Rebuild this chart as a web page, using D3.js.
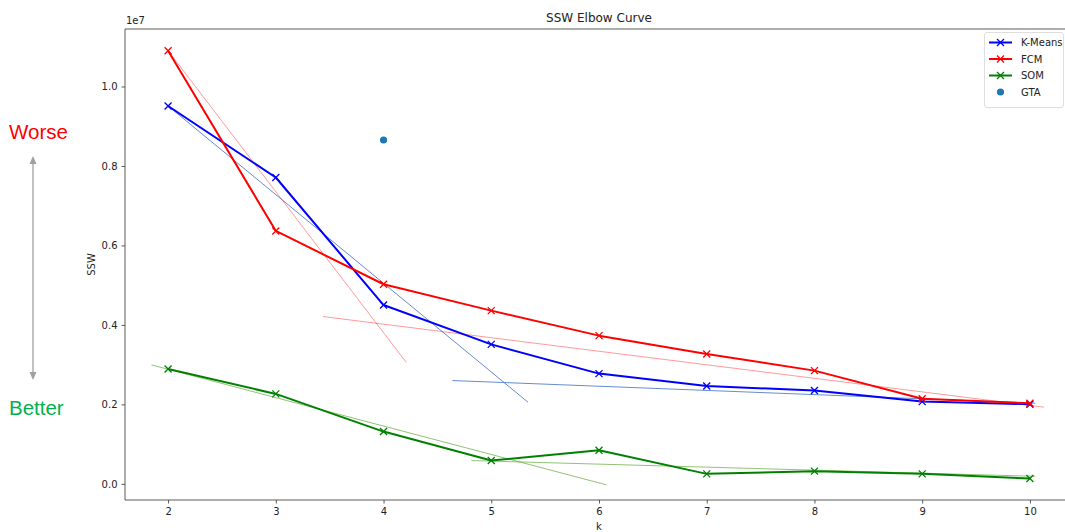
<!DOCTYPE html>
<html>
<head>
<meta charset="utf-8">
<script src="https://cdn.jsdelivr.net/npm/d3@7"></script>
<style>
  html, body { margin: 0; padding: 0; background: #fff; overflow: hidden; }
  svg { display: block; font-family: "DejaVu Sans", sans-serif; }
</style>
</head>
<body>
<svg id="chart" width="1065" height="532"></svg>
<script>
// Number of clusters tried
const kValues = [2, 3, 4, 5, 6, 7, 8, 9, 10];

// Sum of squares within clusters for each method
const kmeansSSW = [9510000, 7710000, 4500000, 3510000, 2775000, 2465000, 2348000, 2070000, 2005000];
const fcmSSW    = [10900000, 6365000, 5024000, 4360000, 3730000, 3270000, 2850000, 2140000, 2030000];
const somSSW    = [2890000, 2264000, 1316000, 586000, 848000, 252000, 320000, 252000, 134000];

// Single GTA result
const gtaPoint = [4, 8654000];

// Two-segment elbow fits, as [k, SSW] end points
const kmeansFit = [[[2, 9510000], [5.341, 2055000]], [[4.64, 2600000], [10.05, 2030000]]];
const fcmFit    = [[[2, 10900000], [4.21, 3060000]], [[3.439, 4210000], [10.13, 1930000]]];
const somFit    = [[[1.846, 2994000], [6.07, -25000]], [[4.816, 586000], [10.05, 190000]]];

const yTicks = [0, 2000000, 4000000, 6000000, 8000000, 10000000];

const svg = d3.select("#chart");
const mLeft = 125, mRight = 1073, mTop = 29, mBottom = 500;

const x = d3.scaleLinear().domain([1.6, 10.4]).range([mLeft, mRight]);
const y = d3.scaleLinear().domain([-406000, 11447000]).range([mBottom, mTop]);

const series = [
  { name: "K-Means", values: kmeansSSW, fit: kmeansFit, color: "#0000ff", fitColor: "#3f6fc4", fitOpacity: 0.8 },
  { name: "FCM",     values: fcmSSW,    fit: fcmFit,    color: "#ff0000", fitColor: "#ff0000", fitOpacity: 0.4 },
  { name: "SOM",     values: somSSW,    fit: somFit,    color: "#008000", fitColor: "#4a9a1a", fitOpacity: 0.6 }
];

// Clip to the axes area
svg.append("defs").append("clipPath").attr("id", "clip")
  .append("rect").attr("x", mLeft).attr("y", mTop).attr("width", mRight - mLeft).attr("height", mBottom - mTop);

const plot = svg.append("g");
const line = d3.line().x(d => x(d[0])).y(d => y(d[1]));
const body = plot.append("g").attr("clip-path", "url(#clip)");

// Fit lines beneath the data curves
series.forEach(s => {
  s.fit.forEach(seg => {
    body.append("path")
      .attr("d", line(seg))
      .attr("fill", "none")
      .attr("stroke", s.fitColor)
      .attr("stroke-opacity", s.fitOpacity)
      .attr("stroke-width", 1);
  });
});

function xMarker(g, cx, cy, color, r) {
  g.append("path")
    .attr("d", `M${cx - r},${cy - r}L${cx + r},${cy + r}M${cx - r},${cy + r}L${cx + r},${cy - r}`)
    .attr("stroke", color)
    .attr("stroke-width", 1.3)
    .attr("fill", "none");
}

series.forEach(s => {
  const pts = kValues.map((k, i) => [k, s.values[i]]);
  body.append("path")
    .attr("d", line(pts))
    .attr("fill", "none")
    .attr("stroke", s.color)
    .attr("stroke-width", 2)
    .attr("stroke-linejoin", "round");
  const mg = body.append("g");
  pts.forEach(p => xMarker(mg, x(p[0]), y(p[1]), s.color, 3.5));
});

body.append("circle")
  .attr("cx", x(gtaPoint[0]))
  .attr("cy", y(gtaPoint[1]))
  .attr("r", 3.6)
  .attr("fill", "#1f77b4");

// Axes
const axisColor = "#333";
const xAxis = plot.append("g").attr("transform", `translate(0,${mBottom})`)
  .call(d3.axisBottom(x).tickValues(kValues).tickSize(3.5).tickPadding(4).tickFormat(d3.format("d")));
const yAxis = plot.append("g").attr("transform", `translate(${mLeft},0)`)
  .call(d3.axisLeft(y).tickValues(yTicks).tickSize(3.5).tickPadding(4).tickFormat(d => (d / 1e7).toFixed(1)));

[xAxis, yAxis].forEach(a => {
  a.select(".domain").remove();
  a.selectAll(".tick line").attr("stroke", axisColor).attr("stroke-width", 0.8);
  a.selectAll(".tick text").attr("fill", "#222").style("font-size", "10px").style("font-family", "DejaVu Sans");
});

// Spines: left, bottom, top
plot.append("path")
  .attr("d", `M${mRight},${mTop}H${mLeft}V${mBottom}H${mRight}`)
  .attr("fill", "none")
  .attr("stroke", axisColor)
  .attr("stroke-width", 0.8);

// Title and labels
svg.append("text").attr("x", (mLeft + mRight) / 2).attr("y", 22)
  .attr("text-anchor", "middle").style("font-size", "12px").attr("fill", "#222")
  .text("SSW Elbow Curve");

svg.append("text").attr("x", 126).attr("y", 24)
  .style("font-size", "10px").attr("fill", "#222").text("1e7");

svg.append("text").attr("transform", `translate(95,${(mTop + mBottom) / 2}) rotate(-90)`)
  .attr("text-anchor", "middle").style("font-size", "10px").attr("fill", "#222").text("SSW");

svg.append("text").attr("x", (mLeft + mRight) / 2).attr("y", 530)
  .attr("text-anchor", "middle").style("font-size", "10px").attr("fill", "#222").text("k");

// Legend
const lg = svg.append("g");
lg.append("rect").attr("x", 984.5).attr("y", 32.5).attr("width", 79).attr("height", 75)
  .attr("rx", 2.5).attr("fill", "#fff").attr("fill-opacity", 0.8)
  .attr("stroke", "#d5d5d5").attr("stroke-width", 0.8);
const rowY = [42.5, 59, 75.5, 92];
series.forEach((s, i) => {
  lg.append("line").attr("x1", 989).attr("x2", 1012).attr("y1", rowY[i]).attr("y2", rowY[i])
    .attr("stroke", s.color).attr("stroke-width", 2);
  xMarker(lg, 1000.5, rowY[i], s.color, 3.5);
  lg.append("text").attr("x", 1021).attr("y", rowY[i] + 3.5)
    .style("font-size", "10px").attr("fill", "#222").text(s.name);
});
lg.append("circle").attr("cx", 1000.5).attr("cy", rowY[3]).attr("r", 3.6).attr("fill", "#1f77b4");
lg.append("text").attr("x", 1021).attr("y", rowY[3] + 3.5)
  .style("font-size", "10px").attr("fill", "#222").text("GTA");

// Quality direction annotation
const ann = svg.append("g");
ann.append("text").attr("x", 9).attr("y", 139)
  .style("font-family", "Liberation Sans, Arial, sans-serif").style("font-size", "20.5px")
  .attr("fill", "#ff0000").text("Worse");
ann.append("text").attr("x", 9).attr("y", 415)
  .style("font-family", "Liberation Sans, Arial, sans-serif").style("font-size", "20.5px")
  .attr("fill", "#00b050").text("Better");
ann.append("line").attr("x1", 33).attr("x2", 33).attr("y1", 160).attr("y2", 376)
  .attr("stroke", "#a0a0a0").attr("stroke-width", 1.3);
ann.append("path").attr("d", "M33,156L29.5,164L36.5,164Z").attr("fill", "#a0a0a0");
ann.append("path").attr("d", "M33,380L29.5,372L36.5,372Z").attr("fill", "#a0a0a0");
</script>
</body>
</html>
